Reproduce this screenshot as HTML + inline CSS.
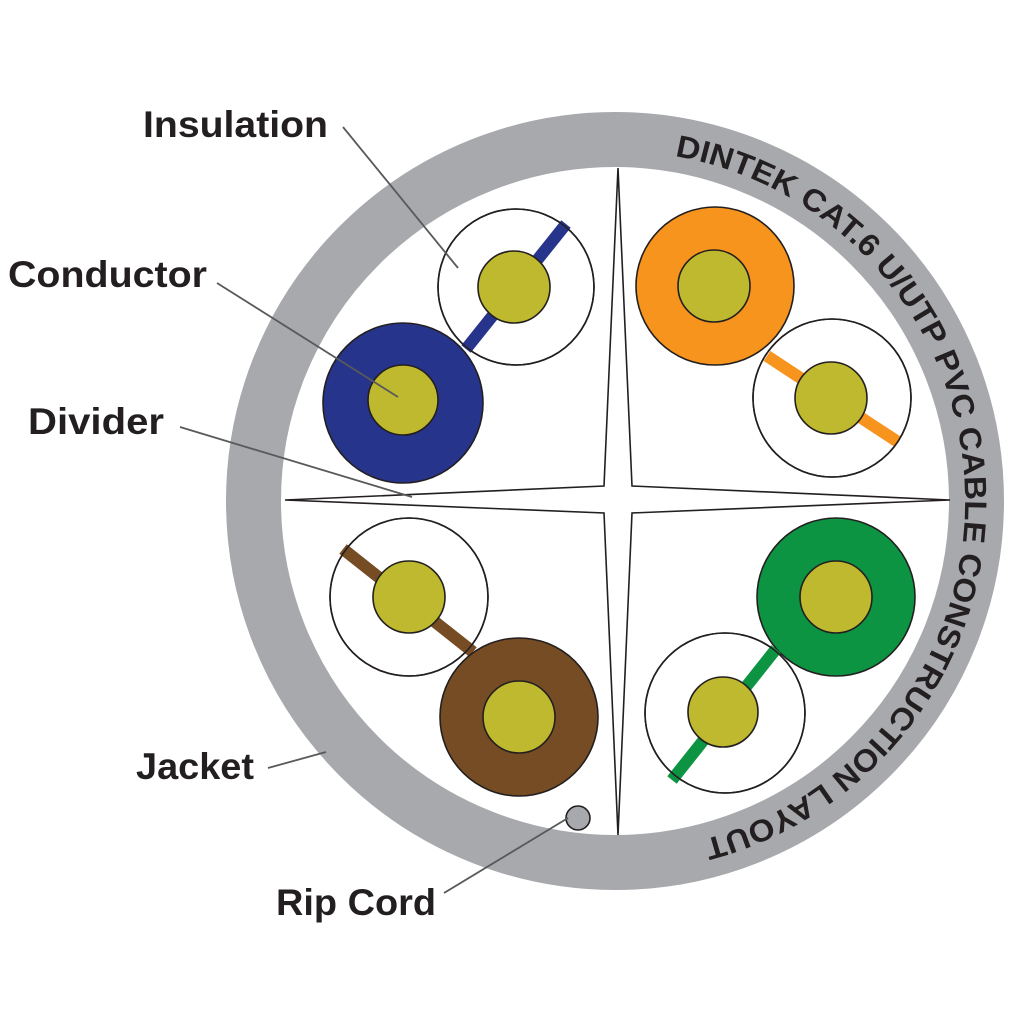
<!DOCTYPE html>
<html><head><meta charset="utf-8"><style>html,body{margin:0;padding:0;background:#fff}svg{display:block}</style></head>
<body>
<svg width="1024" height="1024" viewBox="0 0 1024 1024" xmlns="http://www.w3.org/2000/svg">
<rect width="1024" height="1024" fill="#fff"/>
<circle cx="615" cy="501" r="361.5" fill="none" stroke="#a7a9ac" stroke-width="55"/>
<defs>
<path id="arc" d="M 615 501 m 0 -350 A 350 350 0 1 1 614.9 851 A 350 350 0 1 1 615 151" />
</defs>
<text font-family="Liberation Sans, sans-serif" font-size="31" fill="#231f20" font-weight="600">
<textPath href="#arc" startOffset="60" textLength="950" lengthAdjust="spacingAndGlyphs">DINTEK CAT.6 U/UTP PVC CABLE CONSTRUCTION LAYOUT</textPath>
</text>
<path d="M618 168 L604 486 L285 500 L604 513 L618 835 L632 513 L950 500 L632 486 Z" fill="#fff" stroke="#231f20" stroke-width="1.6" stroke-linejoin="miter"/>
<circle cx="516" cy="287" r="78" fill="#fff" stroke="#231f20" stroke-width="1.6"/>
<line x1="566" y1="224" x2="466" y2="349" stroke="#27348b" stroke-width="12"/>
<circle cx="516" cy="287" r="78" fill="none" stroke="#231f20" stroke-width="1.6"/>
<circle cx="514" cy="287" r="36" fill="#bfb92f" stroke="#231f20" stroke-width="1.6"/>
<circle cx="403" cy="403" r="80" fill="#27348b" stroke="#231f20" stroke-width="1.6"/>
<circle cx="403" cy="400" r="35" fill="#bfb92f" stroke="#231f20" stroke-width="1.6"/>
<circle cx="715" cy="286" r="79" fill="#f7941d" stroke="#231f20" stroke-width="1.6"/>
<circle cx="714" cy="286" r="36" fill="#bfb92f" stroke="#231f20" stroke-width="1.6"/>
<circle cx="832" cy="398" r="79" fill="#fff" stroke="#231f20" stroke-width="1.6"/>
<line x1="767" y1="356" x2="898" y2="442" stroke="#f7941d" stroke-width="12"/>
<circle cx="832" cy="398" r="79" fill="none" stroke="#231f20" stroke-width="1.6"/>
<circle cx="831" cy="398" r="36" fill="#bfb92f" stroke="#231f20" stroke-width="1.6"/>
<circle cx="836" cy="597" r="79" fill="#0d9443" stroke="#231f20" stroke-width="1.6"/>
<circle cx="836" cy="597" r="36" fill="#bfb92f" stroke="#231f20" stroke-width="1.6"/>
<circle cx="725" cy="713" r="80" fill="#fff" stroke="#231f20" stroke-width="1.6"/>
<line x1="776" y1="649" x2="672" y2="780" stroke="#0d9443" stroke-width="12"/>
<circle cx="725" cy="713" r="80" fill="none" stroke="#231f20" stroke-width="1.6"/>
<circle cx="723" cy="712" r="35" fill="#bfb92f" stroke="#231f20" stroke-width="1.6"/>
<circle cx="409" cy="597" r="79" fill="#fff" stroke="#231f20" stroke-width="1.6"/>
<line x1="343" y1="549" x2="473" y2="652" stroke="#754c24" stroke-width="12"/>
<circle cx="409" cy="597" r="79" fill="none" stroke="#231f20" stroke-width="1.6"/>
<circle cx="409" cy="597" r="36" fill="#bfb92f" stroke="#231f20" stroke-width="1.6"/>
<circle cx="519" cy="717" r="79" fill="#754c24" stroke="#231f20" stroke-width="1.6"/>
<circle cx="519" cy="717" r="36" fill="#bfb92f" stroke="#231f20" stroke-width="1.6"/>
<circle cx="578" cy="818" r="12" fill="#a7a9ac" stroke="#231f20" stroke-width="1.6"/>
<g stroke="#58595b" stroke-width="1.8">
<line x1="343" y1="127" x2="458" y2="268"/>
<line x1="217" y1="283" x2="398" y2="397"/>
<line x1="180" y1="427" x2="412" y2="497"/>
<line x1="268" y1="768" x2="326" y2="752"/>
<line x1="444" y1="893" x2="568" y2="818"/>
</g>
<g font-family="Liberation Sans, sans-serif" font-size="37" font-weight="600" fill="#231f20">
<text x="143" y="137" textLength="185" lengthAdjust="spacingAndGlyphs">Insulation</text>
<text x="8" y="287" textLength="199" lengthAdjust="spacingAndGlyphs">Conductor</text>
<text x="28" y="434" textLength="136" lengthAdjust="spacingAndGlyphs">Divider</text>
<text x="136" y="779" textLength="118" lengthAdjust="spacingAndGlyphs">Jacket</text>
<text x="276" y="915" textLength="160" lengthAdjust="spacingAndGlyphs">Rip Cord</text>
</g>
</svg>
</body></html>
